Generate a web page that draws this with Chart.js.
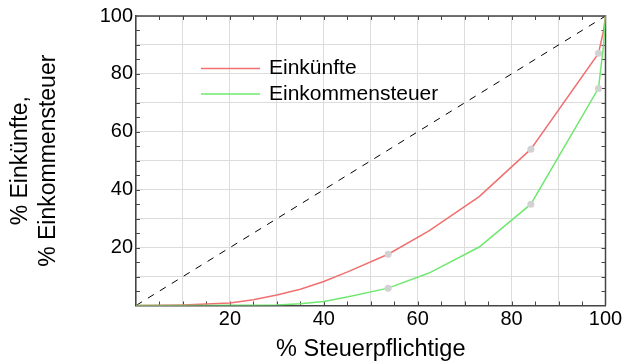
<!DOCTYPE html>
<html>
<head>
<meta charset="utf-8">
<script src="https://cdn.jsdelivr.net/npm/chart.js@4"></script>
<style>
  body { margin: 0; background: #fff; }
</style>
</head>
<body>
<canvas id="chart" width="625" height="361"></canvas>
<script>
// Lorenz-Kurven: Anteil Steuerpflichtige vs. Anteil Einkuenfte / Einkommensteuer
const steuerpflichtige = [0, 5, 10, 15, 20, 25, 30, 35, 40, 45.2, 53.7, 62.4, 73.1, 84.1, 98.5, 99.6, 100];
const einkuenfte       = [0, 0.05, 0.2, 0.5, 0.9, 2.0, 3.6, 5.6, 8.3, 11.7, 17.7, 25.8, 37.6, 54.0, 87.1, 95, 100];
const einkommensteuer  = [0, 0, 0, 0, 0.05, 0.1, 0.2, 0.6, 1.4, 3.0, 6.0, 11.2, 20.2, 35.0, 75.0, 90, 100];

// hervorgehobene Punkte (grau)
const markX       = [53.7, 84.1, 98.5];
const markEink    = [17.7, 54.0, 87.1];
const markSteuer  = [6.0, 35.0, 75.0];

const tickLabels = [20, 40, 60, 80, 100];

const RED = 'rgb(240,112,112)';
const GREEN = 'rgb(112,232,112)';
const FONT = 'Liberation Sans';

function pts(xs, ys) {
  return xs.map((x, i) => ({x: x, y: ys[i]}));
}

function tickCb(value) {
  return tickLabels.includes(value) ? String(value) : '';
}

// Rahmen oben/rechts + kleine Ticks nach innen
const framePlugin = {
  id: 'frame',
  beforeDatasetsDraw(chart) {
    const {ctx, chartArea: {top, bottom, left, right}, scales: {x, y}} = chart;
    ctx.save();
    ctx.strokeStyle = '#444';
    ctx.lineWidth = 1.5;
    ctx.beginPath();
    ctx.moveTo(left, top);
    ctx.lineTo(right, top);
    ctx.lineTo(right, bottom);
    ctx.stroke();
    ctx.lineWidth = 1;
    ctx.beginPath();
    for (let v = 5; v < 100; v += 5) {
      const px = Math.round(x.getPixelForValue(v)) + 0.5;
      ctx.moveTo(px, bottom); ctx.lineTo(px, bottom - 4);
      ctx.moveTo(px, top); ctx.lineTo(px, top + 4);
      const py = Math.round(y.getPixelForValue(v)) + 0.5;
      ctx.moveTo(left, py); ctx.lineTo(left + 4, py);
      ctx.moveTo(right, py); ctx.lineTo(right - 4, py);
    }
    ctx.stroke();
    ctx.restore();
  }
};

// Legende innerhalb der Zeichenflaeche
const legendPlugin = {
  id: 'innerLegend',
  afterDraw(chart) {
    const {ctx, chartArea: {top, left}} = chart;
    const items = [['Einkünfte', RED], ['Einkommensteuer', GREEN]];
    ctx.save();
    ctx.font = '21px "' + FONT + '"';
    ctx.textBaseline = 'middle';
    ctx.fillStyle = '#000';
    items.forEach((it, i) => {
      const yy = top + 52.5 + i * 25.5;
      ctx.strokeStyle = it[1];
      ctx.lineWidth = 1.5;
      ctx.beginPath();
      ctx.moveTo(left + 65, yy);
      ctx.lineTo(left + 124, yy);
      ctx.stroke();
      ctx.fillText(it[0], left + 133, yy);
    });
    ctx.restore();
  }
};

new Chart(document.getElementById('chart'), {
  type: 'scatter',
  data: {
    datasets: [
      {
        label: 'Gleichverteilung',
        data: pts([0, 100], [0, 100]),
        showLine: true,
        borderColor: '#000',
        borderWidth: 1,
        borderDash: [7, 7],
        pointRadius: 0,
        order: 3
      },
      {
        label: 'Einkünfte',
        data: pts(steuerpflichtige, einkuenfte),
        showLine: true,
        borderColor: RED,
        borderWidth: 1.5,
        pointRadius: 0,
        tension: 0,
        order: 2
      },
      {
        label: 'Einkommensteuer',
        data: pts(steuerpflichtige, einkommensteuer),
        showLine: true,
        borderColor: GREEN,
        borderWidth: 1.5,
        pointRadius: 0,
        tension: 0,
        order: 1
      },
      {
        label: 'marks',
        data: pts(markX, markEink).concat(pts(markX, markSteuer)),
        showLine: false,
        pointRadius: 3.5,
        pointBackgroundColor: '#d2d2d2',
        pointBorderWidth: 0,
        order: 0
      }
    ]
  },
  options: {
    responsive: false,
    animation: false,
    layout: {padding: {top: 16, right: 19.5, left: 0, bottom: 0}},
    plugins: {legend: {display: false}, tooltip: {enabled: false}},
    scales: {
      x: {
        type: 'linear', min: 0, max: 100,
        ticks: {stepSize: 10, callback: tickCb, autoSkip: false, maxRotation: 0,
                color: '#000', padding: 2, font: {family: FONT, size: 20}},
        grid: {color: '#dcdcdc', drawTicks: false},
        border: {color: '#444', width: 1.5},
        title: {display: true, text: '% Steuerpflichtige', color: '#000',
                font: {family: FONT, size: 23.5, lineHeight: 1}, padding: 0},
        afterFit: s => { s.height = 55.5; }
      },
      y: {
        type: 'linear', min: 0, max: 100,
        ticks: {stepSize: 10, callback: tickCb, autoSkip: false,
                color: '#000', padding: 3, font: {family: FONT, size: 20}},
        grid: {color: '#dcdcdc', drawTicks: false},
        border: {color: '#444', width: 1.5},
        title: {display: true, text: ['% Einkünfte,', '% Einkommensteuer'], color: '#000',
                font: {family: FONT, size: 23, lineHeight: 1.22}, padding: {top: 7, bottom: 0}},
        afterFit: s => { s.width = 136; }
      }
    }
  },
  plugins: [framePlugin, legendPlugin]
});
</script>
</body>
</html>
